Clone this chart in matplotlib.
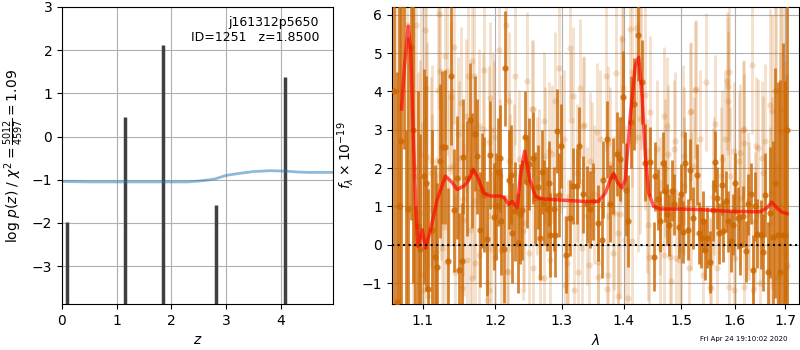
import matplotlib
matplotlib.use('Agg')
import matplotlib.pyplot as plt
from matplotlib.ticker import NullLocator, FixedLocator, FixedFormatter

# ---- left panel: log p(z) peaks and scaled chi2 curve
pz_z = [0.09, 1.16, 1.84, 2.81, 4.08]
pz_logp = [-1.97, 0.45, 2.12, -1.58, 1.37]

chi2_z = [0.0, 0.5, 1.0, 1.5, 2.0, 2.3, 2.5, 2.7, 2.8, 2.9, 3.0, 3.2, 3.5, 3.8, 4.1, 4.3, 4.5, 4.96]
chi2_val = [-1.04, -1.05, -1.05, -1.05, -1.05, -1.05, -1.03, -1.0, -0.98, -0.94, -0.9, -0.86, -0.81, -0.79, -0.80, -0.82, -0.83, -0.83]

# ---- right panel: spectrum (dark = binned, light = unbinned)
dark_lam = [1.0630, 1.0660, 1.0690, 1.0720, 1.0750, 1.0780, 1.0810, 1.0840, 1.0870, 1.0900,
            1.0930, 1.0965, 1.1019, 1.1040, 1.1075, 1.1120, 1.1160, 1.1186, 1.1232, 1.1263,
            1.1300, 1.1335, 1.1376, 1.1420, 1.1458, 1.1491, 1.1527, 1.1550, 1.1606, 1.1638,
            1.1676, 1.1714, 1.1742, 1.1789, 1.1813, 1.1840, 1.1884, 1.1931, 1.1978, 1.2010,
            1.2040, 1.2065, 1.2085, 1.2123, 1.2148, 1.2196, 1.2236, 1.2250, 1.2284, 1.2334,
            1.2360, 1.2390, 1.2432, 1.2468, 1.2500, 1.2553, 1.2594, 1.2635, 1.2669, 1.2700,
            1.2731, 1.2772, 1.2800, 1.2822, 1.2873, 1.2895, 1.2925, 1.2960, 1.2988, 1.3060,
            1.3129, 1.3181, 1.3234, 1.3276, 1.3340, 1.3393, 1.3448, 1.3501, 1.3571, 1.3636,
            1.3664, 1.3718, 1.3774, 1.3829, 1.3883, 1.3940, 1.3996, 1.4034, 1.4080, 1.4126,
            1.4182, 1.4252, 1.4315, 1.4372, 1.4458, 1.4516, 1.4532, 1.4595, 1.4630, 1.4679,
            1.4708, 1.4742, 1.4793, 1.4843, 1.4883, 1.4958, 1.4993, 1.5034, 1.5080, 1.5119,
            1.5171, 1.5221, 1.5287, 1.5324, 1.5364, 1.5401, 1.5437, 1.5478, 1.5530, 1.5580,
            1.5628, 1.5671, 1.5710, 1.5749, 1.5785, 1.5839, 1.5880, 1.5934, 1.5975, 1.6013,
            1.6066, 1.6103, 1.6158, 1.6227, 1.6264, 1.6319, 1.6362, 1.6400, 1.6444, 1.6516,
            1.6560, 1.6600, 1.6650, 1.6700, 1.6750, 1.6800, 1.6850, 1.6900, 1.6950, 1.7000,
            1.7040]
dark_flux = [4.0, -1.5, 1.0, 2.7, 7.5, -2.0, 0.93, 5.15, 3.0, -3.0,
             0.5, -0.1, 1.78, 1.6, -1.15, 0.39, -0.31, -0.58, 2.18, 2.54,
             2.55, -0.42, 4.4, 0.9, 1.75, -0.67, -0.42, 2.3, 1.73, 3.24,
             1.94, 2.9, 2.31, 0.39, 1.42, 1.3, 0.15, 2.34, 0.73, 1.0,
             1.9, 2.25, 0.61, -0.11, 4.6, 1.7, 1.83, 0.3, 0.87, 0.05,
             0.81, 0.9, 2.81, 1.63, 2.1, 2.25, 1.23, 1.5, 0.17, 1.9,
             1.1, 0.94, 1.6, 0.26, 0.94, 0.26, 2.97, 1.3, 2.58, -0.26,
             0.7, 1.53, 1.53, 2.58, 1.31, 1.05, 0.92, 1.13, 0.57, 0.13,
             1.7, 2.75, 1.07, 1.79, 2.36, 2.23, 3.84, 1.44, 0.63, 3.19,
             3.67, 5.46, 4.24, 2.14, 2.16, -0.31, 1.79, 1.18, 0.61, 2.14,
             1.4, 0.79, 0.51, 1.41, 1.05, 0.45, 1.31, 0.33, 2.14, 0.39,
             1.96, 0.7, 1.83, 0.31, 0.18, 0.61, -0.13, 0.18, -0.45, 0.9,
             2.17, 1.22, 0.3, 1.57, 0.35, 1.13, 0.61, 0.09, 0.52, 1.6,
             0.7, 0.0, 0.74, -0.17, 1.05, 1.33, -0.65, 1.0, 0.28, 0.26,
             -0.2, 1.3, -0.7, 0.84, 0.2, 1.6, 0.25, -0.7, 0.25, 0.26,
             3.0]
dark_err = [6, 6, 6, 5, 5, 5, 4.5, 4.5, 4, 4,
            3.5, 3, 2.8, 2.8, 2.6, 2.6, 2.4, 2.2, 2.0, 2.0,
            2.0, 1.9, 1.8, 1.6, 1.6, 1.5, 1.5, 1.5, 1.5, 1.5,
            1.5, 1.5, 1.5, 1.5, 1.5, 1.5, 1.5, 1.4, 1.4, 1.4,
            1.4, 1.4, 1.4, 1.4, 1.5, 1.3, 1.3, 1.3, 1.3, 1.3,
            1.3, 1.3, 1.2, 1.2, 1.2, 1.2, 1.2, 1.1, 1.1, 1.1,
            1.1, 1.1, 1.1, 1.1, 1.1, 1.1, 1.1, 1.1, 1.1, 1.0,
            1.0, 1.0, 1.0, 1.0, 1.0, 1.0, 1.0, 1.0, 1.0, 1.0,
            1.0, 1.0, 1.0, 1.0, 1.1, 1.1, 1.2, 1.2, 1.2, 1.2,
            1.2, 1.2, 1.1, 1.0, 0.9, 0.9, 0.9, 0.8, 0.8, 0.8,
            0.8, 0.8, 0.8, 0.8, 0.8, 0.8, 0.8, 0.8, 0.8, 0.8,
            0.8, 0.8, 0.8, 0.8, 0.8, 0.8, 0.8, 0.8, 0.8, 0.8,
            0.8, 0.8, 0.8, 0.8, 0.8, 0.8, 0.8, 0.8, 0.8, 0.8,
            0.8, 0.8, 0.8, 0.8, 0.8, 0.8, 0.9, 0.9, 0.9, 0.9,
            1.0, 1.1, 1.3, 1.7, 2.5, 3.0, 4.0, 5.0, 5.0, 4.0,
            5.0]

light_lam = [1.0650, 1.0700, 1.0787, 1.0880, 1.0940, 1.0990, 1.1027, 1.1050, 1.1120, 1.1180,
             1.1213, 1.1236, 1.1294, 1.1320, 1.1350, 1.1382, 1.1417, 1.1470, 1.1533, 1.1545,
             1.1579, 1.1648, 1.1672, 1.1695, 1.1710, 1.1827, 1.1846, 1.1884, 1.1921, 1.1935,
             1.2051, 1.2158, 1.2173, 1.2221, 1.2295, 1.2343, 1.2408, 1.2468, 1.2544, 1.2560,
             1.2618, 1.2669, 1.2719, 1.2735, 1.2796, 1.2822, 1.2951, 1.3029, 1.3082, 1.3134,
             1.3177, 1.3186, 1.3240, 1.3292, 1.3345, 1.3400, 1.3507, 1.3562, 1.3575, 1.3702,
             1.3725, 1.3740, 1.3835, 1.3880, 1.3901, 1.3975, 1.4030, 1.4103, 1.4144, 1.4217,
             1.4300, 1.4370, 1.4429, 1.4458, 1.4632, 1.4690, 1.4705, 1.4720, 1.4750, 1.4809,
             1.4869, 1.4958, 1.5048, 1.5060, 1.5138, 1.5169, 1.5229, 1.5279, 1.5352, 1.5402,
             1.5463, 1.5537, 1.5599, 1.5631, 1.5662, 1.5757, 1.5852, 1.5883, 1.5890, 1.5915,
             1.5979, 1.6107, 1.6171, 1.6180, 1.6268, 1.6334, 1.6366, 1.6419, 1.6450, 1.6498,
             1.6564, 1.6598, 1.6731, 1.6818, 1.6832, 1.6898, 1.6912, 1.6966, 1.7020,
             1.0908, 1.1205, 1.1040, 1.1513, 1.1620, 1.0973, 1.1102, 1.1125, 1.0865, 1.1491,
             1.1411, 1.1240, 1.0960, 1.1290, 1.1560, 1.1700, 1.1263, 1.1330, 1.1440, 1.1606,
             1.1676, 1.1019, 1.1062, 1.1172, 1.2196, 1.2553, 1.2899, 1.1775, 1.1962, 1.1978,
             1.1907, 1.2848, 1.2205, 1.2075, 1.2269, 1.2644, 1.2417, 1.1990, 1.2085, 1.2190,
             1.2494, 1.2725, 1.1912, 1.1884, 1.1765, 1.3145, 1.3340, 1.3610, 1.3963, 1.3996,
             1.4240, 1.4280, 1.2988, 1.3448, 1.3775, 1.3473, 1.3941, 1.3913, 1.3829, 1.3747,
             1.3582, 1.3432, 1.3260, 1.3052, 1.3103, 1.3324, 1.4069, 1.4146, 1.4579, 1.4406,
             1.4418, 1.4768, 1.4887, 1.5037, 1.5175, 1.5261, 1.5731, 1.5808, 1.5588, 1.5180,
             1.4916, 1.4827, 1.5556, 1.4620, 1.5006, 1.5863, 1.5870, 1.6697, 1.6740, 1.6797,
             1.6159, 1.6184, 1.6890, 1.5985, 1.6075, 1.6532, 1.6110, 1.6272, 1.6400, 1.6690,
             1.6011, 1.7000, 1.7035]
light_flux = [4.0, 1.0, 5.72, 2.0, 0.5, -0.8, 5.59, 2.3, 0.9, -0.2,
              6.03, 4.54, 4.91, 4.54, 2.0, 3.84, 5.15, 2.9, -1.13, 1.18,
              3.36, 0.39, 4.78, 4.41, -0.48, 3.01, 4.56, -1.0, 3.82, -0.11,
              5.08, 5.72, -0.68, 1.62, 4.41, 2.23, 0.35, 4.28, 3.55, -0.61,
              1.53, -0.83, 3.23, 2.31, 2.44, -0.39, 4.6, 2.75, -0.48, 5.13,
              3.89, -1.18, 1.88, 4.08, 3.12, 0.74, 1.31, 2.93, -0.83, 4.41,
              -1.16, 2.66, 0.83, 4.48, -1.35, 5.37, 0.13, 5.62, 4.5, 5.65,
              6.5, 3.9, -0.31, 3.45, 1.0, 3.35, -0.26, 2.01, 3.1, -0.31,
              2.49, -0.39, 2.31, 1.53, -0.61, 3.45, 2.05, 4.06, 2.75, -0.79,
              4.25, -1.09, 1.53, 3.14, -0.61, 2.23, 4.28, 4.5, -1.09, 1.79,
              -1.18, 2.4, 3.01, -1.09, 1.13, 4.69, -1.18, 2.58, 2.53, -1.0,
              1.88, 2.71, 1.35, 4.04, -0.83, 1.0, 3.54, 2.93, -0.57,
              5.72, 4.03, 4.10, 3.69, 4.41, 2.36, 1.88, 2.18, 1.79, 2.27,
              2.05, 1.79, 0.83, 0.45, 0.65, 1.13, -0.09, -0.44, -0.70, -0.39,
              -0.87, -1.18, -1.35, -0.61, 3.75, 3.54, 3.75, 3.10, 2.99, 2.80,
              2.67, 2.36, 2.18, 1.79, 1.88, 1.75, 0.57, -0.31, -0.13, -0.70,
              -0.22, -0.87, -1.18, -1.44, -0.26, 3.25, 3.10, 2.75, 3.27, 4.10,
              2.80, 3.27, 2.62, 2.18, 2.11, 1.92, 0.79, 0.31, -0.22, -0.80,
              -0.44, -0.52, -0.70, -1.05, -0.09, -0.09, -1.38, 0.10, 2.49, 1.27,
              0.52, 2.36, 2.71, 2.88, 3.48, 4.03, 1.79, 2.75, 1.24, 1.15,
              -0.35, -0.94, -1.13, -0.09, -0.13, 4.15, 3.75, 3.65, 3.48, 4.00,
              2.99, 2.64, 2.97, 2.44, 2.18, 2.27, 1.23, 0.87, 0.61, 0.57,
              -0.35, -0.22, -0.52]
light_err = [6, 6, 5, 5, 4, 4, 3, 3, 2.5, 2.5,
             2.5, 2.2, 2.2, 2.2, 2.0, 2.0, 2.0, 2.0, 2.0, 2.0,
             2.0, 2.0, 2.0, 2.0, 2.0, 2.0, 2.0, 2.0, 2.0, 2.0,
             2.0, 2.0, 2.0, 1.8, 1.8, 1.8, 1.8, 1.8, 1.8, 1.8,
             1.8, 1.8, 1.8, 1.8, 1.8, 1.8, 1.8, 1.8, 1.8, 1.8,
             1.8, 1.8, 1.8, 1.8, 1.8, 1.8, 1.8, 1.8, 1.8, 2.0,
             2.0, 2.0, 2.0, 2.2, 2.2, 2.5, 3.0, 3.0, 3.0, 3.0,
             4.0, 3.0, 2.0, 2.0, 1.8, 1.8, 1.8, 1.8, 1.8, 1.8,
             1.8, 1.8, 1.8, 1.8, 1.8, 1.8, 1.8, 1.8, 1.8, 1.8,
             1.8, 1.8, 1.8, 1.8, 1.8, 1.8, 1.8, 1.8, 1.8, 1.8,
             1.8, 1.8, 1.8, 1.8, 1.8, 1.8, 1.8, 1.8, 1.8, 2.0,
             2.0, 2.0, 2.5, 3.0, 3.0, 4.0, 4.0, 5.0, 5.0,
             4.0, 2.5, 3.0, 2.0, 2.0, 4.0, 2.5, 2.5, 5.0, 2.0,
             2.0, 2.2, 4.0, 2.2, 2.0, 2.0, 2.2, 2.2, 2.0, 2.0,
             2.0, 3.0, 3.0, 2.5, 1.8, 1.8, 1.8, 2.0, 2.0, 2.0,
             2.0, 1.8, 1.8, 2.0, 1.8, 1.8, 1.8, 2.0, 2.0, 1.8,
             1.8, 1.8, 2.0, 2.0, 2.0, 1.8, 1.8, 1.8, 2.2, 2.5,
             3.0, 3.0, 1.8, 1.8, 2.0, 1.8, 2.2, 2.2, 2.0, 2.0,
             1.8, 1.8, 1.8, 1.8, 1.8, 1.8, 3.0, 3.0, 1.8, 2.0,
             2.0, 1.8, 1.8, 1.8, 1.8, 1.8, 1.8, 1.8, 1.8, 1.8,
             1.8, 1.8, 1.8, 1.8, 1.8, 1.8, 1.8, 2.5, 2.5, 3.0,
             1.8, 1.8, 4.0, 1.8, 1.8, 2.0, 1.8, 1.8, 1.8, 2.5,
             1.8, 5.0, 5.0]

model_lam = [1.0722, 1.0761, 1.0809, 1.0839, 1.0874, 1.0904, 1.0934, 1.0992, 1.1036, 1.1102,
             1.1192, 1.1304, 1.1395, 1.1464, 1.1555, 1.1616, 1.1686, 1.1742, 1.1836, 1.1931,
             1.2075, 1.2133, 1.2196, 1.2246, 1.2319, 1.2368, 1.2432, 1.2507, 1.2593, 1.2668,
             1.3028, 1.3344, 1.3587, 1.3697, 1.3780, 1.3835, 1.3901, 1.3975, 1.4030, 1.4115,
             1.4200, 1.4257, 1.4315, 1.4372, 1.4429, 1.4516, 1.4633, 1.4989, 1.5292, 1.5916,
             1.6499, 1.6632, 1.6732, 1.6833, 1.6935, 1.7037]
model_flux = [3.54, 4.67, 5.70, 5.11, 2.93, 1.18, -0.04, 0.39, -0.09, 0.39,
              1.18, 1.79, 1.62, 1.44, 1.53, 1.66, 1.96, 1.79, 1.35, 1.27,
              1.27, 1.22, 1.05, 1.13, 0.96, 1.79, 2.44, 1.70, 1.27, 1.20,
              1.16, 1.13, 1.13, 1.35, 1.70, 1.86, 1.62, 1.48, 1.70, 3.36,
              4.67, 4.89, 3.89, 2.31, 1.35, 1.00, 0.93, 0.93, 0.92, 0.87,
              0.86, 0.96, 1.11, 0.96, 0.85, 0.81]

lam_ticks = [1.1, 1.2, 1.3, 1.4, 1.5, 1.6, 1.7]

spec_color = (0.8, 0.4, 0.0)

fig = plt.figure(figsize=(8, 3.5), dpi=100)
ax1 = fig.add_axes([0.0775, 0.131, 0.339, 0.849])
ax2 = fig.add_axes([0.49, 0.131, 0.509, 0.849])

# left panel
ax1.vlines(pz_z, -4, pz_logp, color='0.25', lw=2.5)
ax1.plot(chi2_z, chi2_val, color='tab:blue', alpha=0.5, lw=2)
ax1.set_xlim(0, 4.96)
ax1.set_ylim(-3.88, 3)
ax1.set_xticks([0, 1, 2, 3, 4])
ax1.set_yticks([-3, -2, -1, 0, 1, 2, 3])
ax1.grid()
ax1.set_xlabel(r'$z$')
ax1.set_ylabel(r'log $p(z)$' + ' / ' + r'$\chi^2=\frac{5012}{4597}=1.09$')
ax1.text(0.948, 0.97, 'j161312p5650\nID=1251   z=1.8500', ha='right', va='top',
         transform=ax1.transAxes, fontsize=9)

# right panel
ax2.errorbar(light_lam, light_flux, yerr=light_err, fmt='o', color=spec_color,
             alpha=0.2, ms=4.5, elinewidth=2, capsize=0, mew=0, zorder=2)
ax2.errorbar(dark_lam, dark_flux, yerr=dark_err, fmt='o', color=spec_color,
             alpha=0.8, ms=4.5, elinewidth=2, capsize=0, mew=0, zorder=3)
ax2.plot(model_lam, model_flux, color='r', alpha=0.65, lw=2.5, zorder=4)
ax2.axhline(0, color='k', ls=':', lw=1.5, zorder=5)

ax2.set_xscale('log')
ax2.set_xlim(1.060, 1.729)
ax2.set_ylim(-1.55, 6.2)
ax2.xaxis.set_major_locator(FixedLocator(lam_ticks))
ax2.xaxis.set_major_formatter(FixedFormatter([str(t) for t in lam_ticks]))
ax2.xaxis.set_minor_locator(NullLocator())
ax2.set_yticks([-1, 0, 1, 2, 3, 4, 5, 6])
ax2.grid()
ax2.set_xlabel(r'$\lambda$')
ax2.set_ylabel(r'$f_\lambda\times10^{-19}$')

fig.text(0.984, 0.022, 'Fri Apr 24 19:10:02 2020', ha='right', va='bottom', fontsize=5)

fig.savefig('out.png', dpi=100)
